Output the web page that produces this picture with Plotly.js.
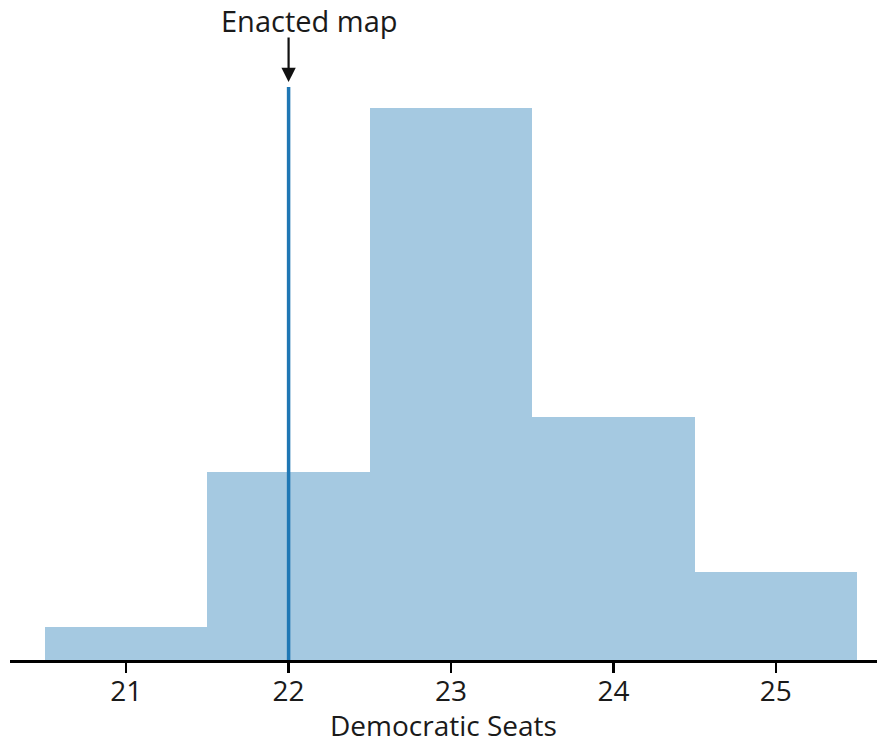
<!DOCTYPE html>
<html>
<head>
<meta charset="utf-8">
<script src="https://cdn.plot.ly/plotly-3.0.1.min.js"></script>
<style>html,body{margin:0;padding:0;background:#fff;}#chart{width:877px;height:744px;}</style>
</head>
<body>
<div id="chart"></div>
<script>
// Data
const seats = [21, 22, 23, 24, 25];
const counts = [3, 17, 50, 22, 8];
const enactedSeats = 22;
const enactedLineTop = 51.9;
const enactedLabel = "Enacted map";
const xTitle = "Democratic Seats";
const tickVals = [21, 22, 23, 24, 25];
const tickText = ["21", "22", "23", "24", "25"];

const font = "Open Sans, DejaVu Sans, sans-serif";

const traces = [
  {
    type: "bar",
    x: seats,
    y: counts,
    width: 1,
    marker: { color: "#a5c9e1", line: { width: 0 } },
    hoverinfo: "x+y",
    showlegend: false
  },
  {
    type: "scatter",
    mode: "lines",
    x: [enactedSeats, enactedSeats],
    y: [0, enactedLineTop],
    line: { color: "#1f77b4", width: 3.5 },
    hoverinfo: "skip",
    showlegend: false
  }
];

const layout = {
  width: 877,
  height: 744,
  margin: { l: 10, r: 0, t: 40, b: 84 },
  paper_bgcolor: "#ffffff",
  plot_bgcolor: "#ffffff",
  bargap: 0,
  font: { family: font, color: "#1a1a1a" },
  xaxis: {
    range: [20.2846, 25.6231],
    tickmode: "array",
    tickvals: tickVals,
    ticktext: tickText,
    ticks: "outside",
    ticklen: 10,
    tickwidth: 2.5,
    tickcolor: "#000000",
    showline: true,
    linecolor: "#000",
    linewidth: 2.5,
    showgrid: false,
    zeroline: false,
    ticklabelstandoff: -5,
    tickfont: { size: 28, family: font, color: "#1a1a1a" },
    fixedrange: true
  },
  yaxis: {
    range: [0, 56.16],
    visible: false,
    showgrid: false,
    zeroline: false,
    fixedrange: true
  },
  annotations: [
    {
      x: enactedSeats, y: 52.36, xref: "x", yref: "y",
      text: "", showarrow: true,
      ax: 0, ay: -46,
      arrowhead: 2, arrowsize: 1.3, arrowwidth: 2.2, arrowcolor: "#111"
    },
    {
      x: enactedSeats, y: 1, xref: "x", yref: "paper",
      xshift: 21, yshift: 20,
      yanchor: "middle", xanchor: "center",
      text: enactedLabel, showarrow: false,
      font: { size: 29, family: font, color: "#1a1a1a" }
    },
    {
      x: 0.5, y: 0, xref: "paper", yref: "paper",
      yshift: -65, yanchor: "middle", xanchor: "center",
      text: xTitle, showarrow: false,
      font: { size: 28, family: font, color: "#1a1a1a" }
    }
  ]
};

Plotly.newPlot("chart", traces, layout, { displayModeBar: false, staticPlot: true });
</script>
</body>
</html>
